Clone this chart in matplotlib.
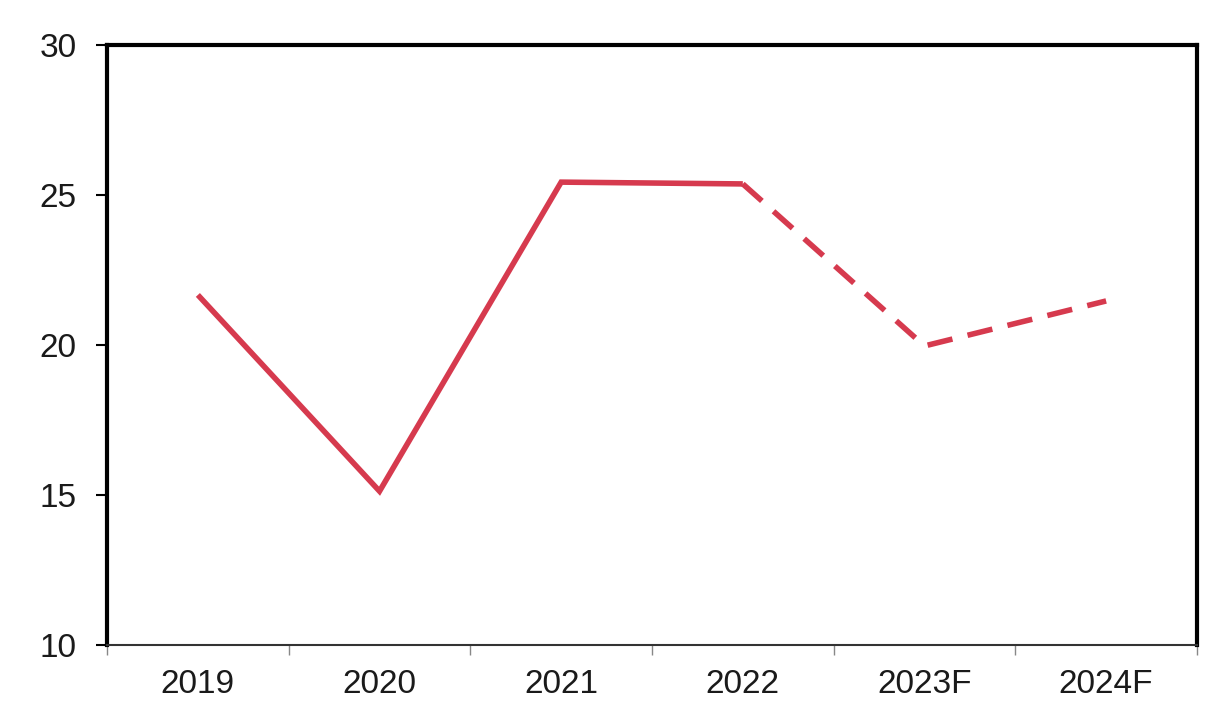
import matplotlib
matplotlib.use("Agg")
import matplotlib.pyplot as plt

categories = ["2019", "2020", "2021", "2022", "2023F", "2024F"]
values = [21.67, 15.13, 25.43, 25.37, 19.97, 21.47]
actual_n = 4  # first 4 are actual, rest forecast
yticks = [10, 15, 20, 25, 30]

color = "#D63A4E"
plt.rcParams['font.family'] = ['Liberation Sans', 'DejaVu Sans']

fig = plt.figure(figsize=(12.22, 7.2), dpi=100)
ax = fig.add_axes([0.0876, 0.104, 0.8919, 0.8335])

x = list(range(len(categories)))
ax.plot(x[:actual_n], values[:actual_n], color=color, lw=4, solid_joinstyle='miter', solid_capstyle='butt')
ax.plot(x[actual_n-1:], values[actual_n-1:], color=color, lw=4, dashes=(4.6, 2.8), dash_capstyle='butt')

ax.set_xlim(-0.5, len(categories) - 0.5)
ax.set_ylim(10, 30)
ax.set_yticks(yticks)
ax.set_yticklabels([str(t) for t in yticks])
ax.set_xticks(x)
ax.set_xticklabels(categories)
ax.set_xticks([i - 0.5 for i in range(len(categories) + 1)], minor=True)

ax.tick_params(axis='x', which='major', length=0, pad=17, labelsize=24, labelcolor='#1a1a1a')
ax.tick_params(axis='x', which='minor', length=7, width=1, color='#888888', direction='out')
ax.tick_params(axis='y', which='major', length=8, width=1.5, color='black', pad=14, labelsize=24, labelcolor='#1a1a1a')

for s in ['left', 'top', 'right']:
    ax.spines[s].set_linewidth(3)
    ax.spines[s].set_color('black')
ax.spines['bottom'].set_linewidth(1.5)
ax.spines['bottom'].set_color('#333333')

fig.savefig("out.png", dpi=100, facecolor='white')
